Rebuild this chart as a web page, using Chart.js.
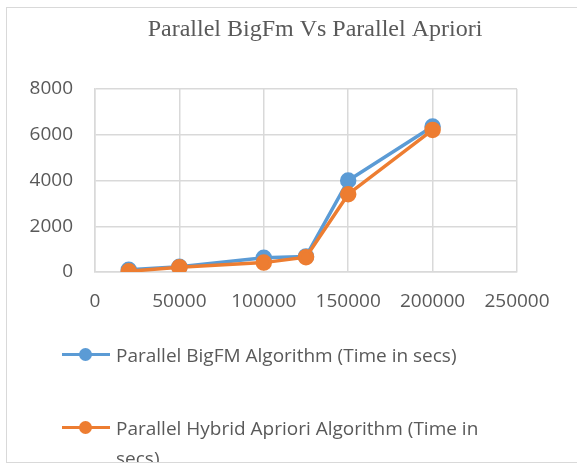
<!DOCTYPE html>
<html>
<head>
<meta charset="utf-8">
<script src="https://cdn.jsdelivr.net/npm/chart.js@4/dist/chart.umd.min.js"></script>
<style>
    html, body { margin: 0; padding: 0; background: #fff; }
    #wrap { position: relative; width: 577px; height: 464px; overflow: hidden; }
    #frame { position: absolute; left: 6px; top: 7px; width: 600px; height: 456px; border: 1px solid #d9d9d9; box-sizing: border-box; }
    #myChart { position: absolute; left: 0; top: 0; }
    #legend { position: absolute; left: 62px; top: 340px; width: 420px; height: 122px; overflow: hidden; font-family: "Open Sans", sans-serif; font-size: 19px; color: #595959; }
    .item { display: flex; align-items: flex-start; line-height: 30px; margin-bottom: 43px; }
    .mark { position: relative; width: 48px; height: 30px; flex: none; margin-right: 6px; }
    .mark .ln { position: absolute; left: 0; right: 0; top: 13px; height: 3px; }
    .mark .dot { position: absolute; left: 17px; top: 8px; width: 13px; height: 13px; border-radius: 50%; }
</style>
</head>
<body>
<div id="wrap">
    <div id="frame"></div>
    <canvas id="myChart" width="577" height="464"></canvas>
    <div id="legend"></div>
</div>
<script>
const chartTitle = 'Parallel BigFm Vs Parallel Apriori';
const xValues = [20000, 50000, 100000, 125000, 150000, 200000];
const bigFmTimes = [100, 230, 620, 680, 4000, 6360];
const aprioriTimes = [30, 210, 410, 650, 3400, 6210];
const seriesNames = ['Parallel BigFM Algorithm (Time in secs)', 'Parallel Hybrid Apriori Algorithm (Time in secs)'];
const seriesColors = ['#5B9BD5', '#ED7D31'];

const toPoints = (ys) => xValues.map((x, i) => ({ x: x, y: ys[i] }));

let myChart = null;

// 제목은 차트 영역이 아닌 전체 폭 기준으로 가운데 정렬
const titlePlugin = {
    id: 'centerTitle',
    afterDraw(chart) {
        const c = chart.ctx;
        c.save();
        c.font = '24px "Liberation Serif", serif';
        c.fillStyle = '#595959';
        c.textAlign = 'center';
        c.textBaseline = 'middle';
        c.fillText(chartTitle, 315, 30);
        c.restore();
    }
};

function initChart() {
    const ctx = document.getElementById('myChart').getContext('2d');
    const tickFont = { family: '"Open Sans", sans-serif', size: 19 };
    myChart = new Chart(ctx, {
        type: 'line',
        data: {
            datasets: [bigFmTimes, aprioriTimes].map((ys, i) => ({
                label: seriesNames[i],
                data: toPoints(ys),
                borderColor: seriesColors[i],
                backgroundColor: seriesColors[i],
                borderWidth: 3.5,
                pointRadius: 6.5,
                pointHoverRadius: 6.5,
                tension: 0,
                order: 1 - i // 주황색 선이 위에 그려지도록
            }))
        },
        options: {
            responsive: false,
            animation: false,
            layout: { padding: { left: 0, right: 60, top: 89, bottom: 148 } },
            scales: {
                x: {
                    type: 'linear',
                    min: 0,
                    max: 250000,
                    ticks: { stepSize: 50000, color: '#595959', font: tickFont, padding: 18, maxRotation: 0, callback: (v) => String(v) },
                    grid: { color: '#d9d9d9', lineWidth: 1.5, drawTicks: false },
                    border: { color: '#d9d9d9', width: 1.5 },
                    afterFit: (s) => { s.height = 44; }
                },
                y: {
                    min: 0,
                    max: 8000,
                    ticks: { stepSize: 2000, color: '#595959', font: tickFont, padding: 22, callback: (v) => String(v) },
                    grid: { color: '#d9d9d9', lineWidth: 1.5, drawTicks: false },
                    border: { color: '#d9d9d9', width: 1.5 },
                    afterFit: (s) => { s.width = 95; }
                }
            },
            plugins: {
                legend: { display: false },
                tooltip: { enabled: false },
                title: { display: false }
            }
        },
        plugins: [titlePlugin]
    });
}

function buildLegend() {
    const box = document.getElementById('legend');
    seriesNames.forEach((name, i) => {
        const item = document.createElement('div');
        item.className = 'item';
        item.innerHTML = '<div class="mark"><div class="ln" style="background:' + seriesColors[i] + '"></div>' +
            '<div class="dot" style="background:' + seriesColors[i] + '"></div></div><div class="txt">' + name + '</div>';
        box.appendChild(item);
    });
}

document.addEventListener('DOMContentLoaded', () => {
    initChart();
    buildLegend();
});
</script>
</body>
</html>
